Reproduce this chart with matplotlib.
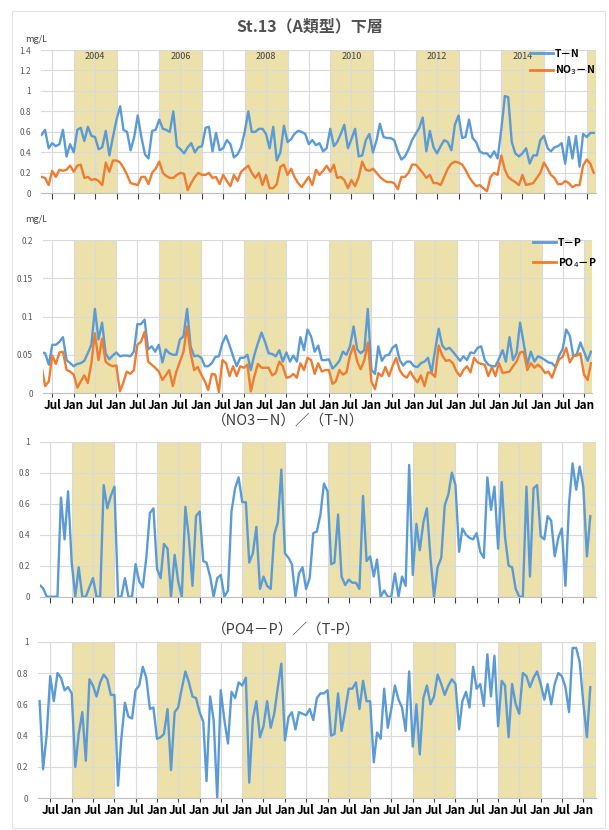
import numpy as np
import pandas as pd
import matplotlib
matplotlib.use('Agg')
import matplotlib.pyplot as plt
import matplotlib.dates as mdates
import matplotlib.transforms as mtransforms
from matplotlib.ticker import FuncFormatter, NullFormatter
from matplotlib.lines import Line2D
from matplotlib.patches import Rectangle

plt.rcParams['font.family'] = ['Noto Sans CJK JP', 'DejaVu Sans']

# ---------------- data (monthly, Apr 2003 - Mar 2016) ----------------
start_month = '2003-04-01'
n_months = 156

t_n = [0.57, 0.62, 0.44, 0.49, 0.46, 0.48, 0.62, 0.36, 0.48, 0.40, 0.62, 0.64,
       0.51, 0.65, 0.56, 0.55, 0.43, 0.45, 0.61, 0.37, 0.55, 0.72, 0.85, 0.62,
       0.60, 0.42, 0.55, 0.76, 0.55, 0.38, 0.34, 0.61, 0.62, 0.72, 0.63, 0.62,
       0.60, 0.80, 0.46, 0.43, 0.39, 0.45, 0.49, 0.40, 0.45, 0.46, 0.64, 0.65,
       0.41, 0.59, 0.42, 0.44, 0.52, 0.48, 0.35, 0.38, 0.45, 0.60, 0.80, 0.60,
       0.60, 0.63, 0.63, 0.58, 0.44, 0.65, 0.32, 0.40, 0.66, 0.50, 0.53, 0.58,
       0.61, 0.60, 0.58, 0.48, 0.52, 0.47, 0.49, 0.41, 0.44, 0.63, 0.46, 0.50,
       0.58, 0.67, 0.44, 0.53, 0.63, 0.36, 0.37, 0.52, 0.58, 0.40, 0.52, 0.68,
       0.55, 0.54, 0.54, 0.52, 0.41, 0.33, 0.36, 0.43, 0.52, 0.58, 0.64, 0.74,
       0.41, 0.61, 0.45, 0.39, 0.46, 0.52, 0.50, 0.42, 0.67, 0.76, 0.54, 0.55,
       0.72, 0.54, 0.50, 0.41, 0.39, 0.39, 0.35, 0.41, 0.34, 0.62, 0.95, 0.94,
       0.50, 0.39, 0.36, 0.39, 0.44, 0.29, 0.37, 0.37, 0.52, 0.56, 0.44, 0.41,
       0.45, 0.46, 0.49, 0.29, 0.55, 0.34, 0.56, 0.26, 0.58, 0.55, 0.59, 0.59]

no3_n = [0.16, 0.15, 0.08, 0.22, 0.16, 0.23, 0.22, 0.23, 0.27, 0.21, 0.27, 0.28,
         0.15, 0.16, 0.13, 0.14, 0.12, 0.08, 0.30, 0.21, 0.32, 0.32, 0.30, 0.25,
         0.18, 0.10, 0.09, 0.08, 0.16, 0.16, 0.09, 0.20, 0.24, 0.31, 0.20, 0.17,
         0.15, 0.15, 0.18, 0.20, 0.19, 0.03, 0.10, 0.16, 0.20, 0.18, 0.18, 0.20,
         0.15, 0.16, 0.09, 0.18, 0.12, 0.07, 0.18, 0.12, 0.21, 0.24, 0.27, 0.20,
         0.15, 0.20, 0.08, 0.18, 0.05, 0.05, 0.09, 0.26, 0.28, 0.18, 0.24, 0.16,
         0.10, 0.06, 0.11, 0.16, 0.08, 0.23, 0.18, 0.22, 0.27, 0.21, 0.28, 0.15,
         0.16, 0.13, 0.05, 0.13, 0.07, 0.16, 0.31, 0.23, 0.22, 0.24, 0.20, 0.16,
         0.13, 0.11, 0.11, 0.10, 0.04, 0.16, 0.16, 0.20, 0.28, 0.28, 0.24, 0.20,
         0.15, 0.18, 0.10, 0.10, 0.08, 0.16, 0.24, 0.29, 0.31, 0.30, 0.28, 0.23,
         0.16, 0.11, 0.07, 0.08, 0.05, 0.02, 0.16, 0.20, 0.18, 0.37, 0.23, 0.16,
         0.13, 0.11, 0.08, 0.18, 0.08, 0.09, 0.10, 0.15, 0.20, 0.30, 0.24, 0.18,
         0.15, 0.09, 0.09, 0.12, 0.10, 0.06, 0.08, 0.08, 0.27, 0.33, 0.29, 0.20]

t_p = [0.053, 0.052, 0.037, 0.063, 0.063, 0.067, 0.073, 0.043, 0.039, 0.035, 0.038, 0.039,
       0.042, 0.052, 0.063, 0.110, 0.070, 0.092, 0.052, 0.044, 0.049, 0.053, 0.048, 0.049,
       0.049, 0.048, 0.054, 0.090, 0.090, 0.096, 0.057, 0.061, 0.054, 0.063, 0.040, 0.057,
       0.052, 0.050, 0.050, 0.070, 0.074, 0.110, 0.061, 0.048, 0.049, 0.046, 0.035, 0.035,
       0.039, 0.047, 0.048, 0.065, 0.075, 0.062, 0.048, 0.035, 0.046, 0.046, 0.050, 0.030,
       0.050, 0.065, 0.079, 0.067, 0.052, 0.051, 0.048, 0.056, 0.041, 0.053, 0.041, 0.049,
       0.041, 0.073, 0.056, 0.083, 0.074, 0.054, 0.062, 0.043, 0.043, 0.044, 0.032, 0.036,
       0.042, 0.054, 0.050, 0.061, 0.087, 0.057, 0.052, 0.056, 0.110, 0.030, 0.025, 0.061,
       0.042, 0.049, 0.050, 0.059, 0.063, 0.043, 0.036, 0.041, 0.041, 0.035, 0.034, 0.039,
       0.041, 0.046, 0.027, 0.056, 0.084, 0.062, 0.057, 0.059, 0.054, 0.048, 0.042, 0.048,
       0.043, 0.053, 0.052, 0.059, 0.061, 0.043, 0.037, 0.035, 0.035, 0.045, 0.056, 0.041,
       0.073, 0.043, 0.052, 0.092, 0.065, 0.037, 0.054, 0.041, 0.048, 0.046, 0.043, 0.040,
       0.039, 0.034, 0.049, 0.057, 0.083, 0.075, 0.048, 0.051, 0.066, 0.054, 0.042, 0.054]

po4_p = [0.034, 0.009, 0.015, 0.049, 0.038, 0.053, 0.054, 0.030, 0.028, 0.024, 0.007, 0.015,
         0.023, 0.013, 0.039, 0.078, 0.043, 0.071, 0.041, 0.037, 0.035, 0.036, 0.002, 0.013,
         0.028, 0.025, 0.030, 0.063, 0.067, 0.080, 0.041, 0.037, 0.033, 0.028, 0.017, 0.023,
         0.030, 0.009, 0.028, 0.041, 0.054, 0.087, 0.052, 0.030, 0.034, 0.024, 0.015, 0.004,
         0.025, 0.024, 0.001, 0.043, 0.039, 0.022, 0.035, 0.022, 0.035, 0.033, 0.037, 0.002,
         0.022, 0.038, 0.033, 0.033, 0.033, 0.023, 0.026, 0.041, 0.035, 0.020, 0.021, 0.025,
         0.020, 0.039, 0.030, 0.046, 0.043, 0.025, 0.039, 0.028, 0.030, 0.030, 0.012, 0.015,
         0.030, 0.024, 0.027, 0.049, 0.062, 0.041, 0.031, 0.043, 0.066, 0.015, 0.005, 0.026,
         0.022, 0.034, 0.022, 0.035, 0.046, 0.030, 0.023, 0.020, 0.028, 0.020, 0.014, 0.023,
         0.009, 0.027, 0.026, 0.021, 0.062, 0.049, 0.042, 0.043, 0.039, 0.028, 0.022, 0.030,
         0.035, 0.027, 0.046, 0.040, 0.038, 0.037, 0.022, 0.034, 0.022, 0.039, 0.026, 0.027,
         0.028, 0.035, 0.041, 0.053, 0.054, 0.030, 0.039, 0.033, 0.037, 0.033, 0.026, 0.028,
         0.020, 0.033, 0.044, 0.047, 0.059, 0.040, 0.048, 0.049, 0.052, 0.024, 0.017, 0.039]

ratio_n = [0.075, 0.055, 0, 0, 0, 0, 0.64, 0.37, 0.68, 0.22, 0, 0.19,
           0, 0, 0.06, 0.12, 0, 0, 0.72, 0.57, 0.65, 0.71, 0, 0,
           0.12, 0, 0, 0.21, 0.10, 0.06, 0.25, 0.54, 0.57, 0.18, 0.12, 0.34,
           0.31, 0, 0.27, 0.10, 0, 0.58, 0.38, 0.07, 0.52, 0.55, 0.23, 0.22,
           0.13, 0, 0.12, 0.14, 0, 0.04, 0.55, 0.70, 0.77, 0.61, 0.61, 0.22,
           0.28, 0.45, 0.05, 0.13, 0.07, 0.05, 0.40, 0.48, 0.82, 0.28, 0.25, 0.21,
           0, 0.15, 0.19, 0.05, 0.12, 0.41, 0.42, 0.53, 0.73, 0.68, 0.21, 0.22,
           0.53, 0.13, 0.075, 0.11, 0.09, 0.09, 0.05, 0.65, 0.23, 0.26, 0.13, 0.24,
           0, 0.04, 0, 0, 0.15, 0, 0.13, 0.07, 0.85, 0.14, 0.47, 0.30,
           0.48, 0.57, 0.25, 0, 0.19, 0.25, 0.59, 0.66, 0.80, 0.72, 0.29, 0.44,
           0.40, 0.38, 0.37, 0.41, 0.29, 0.25, 0.77, 0.56, 0.71, 0.31, 0.74, 0.39,
           0.20, 0.19, 0.05, 0, 0, 0.71, 0.13, 0.70, 0.72, 0.39, 0.37, 0.52,
           0.49, 0.26, 0.38, 0.44, 0.07, 0.60, 0.86, 0.69, 0.84, 0.71, 0.26, 0.52]

ratio_p = [0.62, 0.185, 0.41, 0.78, 0.62, 0.80, 0.77, 0.69, 0.71, 0.67, 0.20, 0.41,
           0.55, 0.24, 0.76, 0.72, 0.65, 0.74, 0.79, 0.76, 0.66, 0.66, 0.08, 0.38,
           0.61, 0.52, 0.51, 0.69, 0.72, 0.84, 0.77, 0.57, 0.58, 0.38, 0.39, 0.41,
           0.57, 0.18, 0.55, 0.58, 0.70, 0.81, 0.74, 0.65, 0.64, 0.55, 0.49, 0.11,
           0.65, 0.50, 0, 0.69, 0.50, 0.35, 0.68, 0.64, 0.74, 0.72, 0.77, 0.10,
           0.51, 0.62, 0.39, 0.46, 0.62, 0.45, 0.54, 0.71, 0.86, 0.37, 0.52, 0.55,
           0.44, 0.55, 0.54, 0.53, 0.57, 0.50, 0.64, 0.67, 0.67, 0.69, 0.40, 0.41,
           0.67, 0.43, 0.56, 0.70, 0.70, 0.74, 0.57, 0.75, 0.62, 0.62, 0.23, 0.42,
           0.38, 0.70, 0.45, 0.57, 0.72, 0.63, 0.58, 0.43, 0.81, 0.33, 0.60, 0.28,
           0.64, 0.72, 0.60, 0.65, 0.79, 0.73, 0.66, 0.72, 0.76, 0.73, 0.44, 0.62,
           0.68, 0.58, 0.84, 0.70, 0.73, 0.59, 0.92, 0.65, 0.91, 0.46, 0.75, 0.72,
           0.39, 0.73, 0.60, 0.54, 0.80, 0.78, 0.71, 0.77, 0.81, 0.73, 0.63, 0.73,
           0.60, 0.73, 0.80, 0.78, 0.71, 0.55, 0.96, 0.96, 0.87, 0.61, 0.39, 0.71]

shade_years = [2004, 2006, 2008, 2010, 2012, 2014, 2016]
label_years = [2004, 2006, 2008, 2010, 2012, 2014]

title = 'St.13（A類型）下層'
unit = 'mg/L'
title_n = '（NO3－N）／（T-N）'
title_p = '（PO4－P）／（T-P）'
lab_tn, lab_no3 = 'T－N', 'NO$_3$－N'
lab_tp, lab_po4 = 'T－P', 'PO$_4$－P'

for arr in (t_n, no3_n, t_p, po4_p, ratio_n, ratio_p):
    assert len(arr) == n_months

# ---------------- figure ----------------
W, H = 609, 830
fig = plt.figure(figsize=(W / 100, H / 100), dpi=100)
fig.patch.set_facecolor('white')

BLUE = '#5B9BD5'
ORANGE = '#ED7D31'
SHADE = '#ECE1AB'
GRID = '#D9D9D9'
TXT = '#404040'

months = pd.date_range(start_month, periods=n_months, freq='MS')
xs = mdates.date2num(months.to_pydatetime())
d04 = mdates.date2num(pd.Timestamp('2004-01-01'))
d16 = mdates.date2num(pd.Timestamp('2016-01-01'))

tick_dates = pd.date_range('2003-07-01', '2016-01-01', freq='6MS')
tick_x = mdates.date2num(tick_dates.to_pydatetime())
tick_lbl = [d.strftime('%b') for d in tick_dates]


def make_axes(left, right, top, bottom, jan04, jan16):
    ax = fig.add_axes([left / W, 1 - bottom / H, (right - left) / W, (bottom - top) / H])
    per = (d16 - d04) / (jan16 - jan04)
    ax.set_xlim(d04 - (jan04 - left) * per, d16 + (right - jan16) * per)
    return ax


def style(ax, ymax, ystep, xlabels):
    ax.set_ylim(0, ymax)
    ax.set_yticks(np.arange(0, ymax + ystep / 2, ystep))
    ax.yaxis.set_major_formatter(FuncFormatter(lambda v, p: f'{round(v, 4):g}'))
    ax.tick_params(axis='y', length=0, labelsize=6, labelcolor='#595959', pad=7)
    ax.set_xticks(tick_x)
    if xlabels:
        ax.set_xticklabels(tick_lbl, fontweight='bold', fontsize=8.5, color='black')
        ax.tick_params(axis='x', length=3, pad=1, color='#404040')
    else:
        ax.xaxis.set_major_formatter(NullFormatter())
        ax.tick_params(axis='x', length=4, color='#404040')
    ax.grid(True, color=GRID, lw=0.8)
    ax.set_axisbelow(True)
    for s in ('top', 'right', 'left'):
        ax.spines[s].set_visible(False)
    ax.spines['bottom'].set_color('#BFBFBF')
    for y in shade_years:
        ax.axvspan(mdates.date2num(pd.Timestamp(f'{y}-01-01')),
                   mdates.date2num(pd.Timestamp(f'{y + 1}-01-01')),
                   color=SHADE, lw=0, zorder=0.1)


def legend(ax, handles, labels, x0, y0, spacing):
    ax.legend(handles, labels, loc='upper left', bbox_to_anchor=(x0 / W, 1 - y0 / H),
              bbox_transform=fig.transFigure, frameon=False, handlelength=2.2,
              handletextpad=0.2, labelspacing=spacing, borderpad=0, borderaxespad=0,
              prop={'weight': 'bold', 'size': 7.5})


# frame
fig.add_artist(Rectangle((12 / W, 2 / H), 593 / W, 817 / H, transform=fig.transFigure,
                         fill=False, edgecolor='#E3E3E3', lw=0.8))

fig.text(310 / W, 1 - 26 / H, title, ha='center', va='center', fontsize=11.5,
         fontweight='bold', color='#505050')

# ---- panel 1 ----
ax1 = make_axes(41, 596, 50, 193.3, 73.7, 586.7)
style(ax1, 1.4, 0.2, False)
ax1.plot(xs, t_n, color=BLUE, lw=1.7, zorder=3)
ax1.plot(xs, no3_n, color=ORANGE, lw=1.7, zorder=3)
tr = mtransforms.blended_transform_factory(ax1.transData, ax1.transAxes)
for y in label_years:
    ax1.text(mdates.date2num(pd.Timestamp(f'{y}-07-01')), 0.952, str(y), transform=tr,
             ha='center', va='center', fontsize=6.5, color=TXT)
fig.text(36 / W, 1 - 40 / H, unit, ha='center', va='center', fontsize=6.5, color=TXT)
legend(ax1, [Line2D([], [], color=BLUE, lw=2), Line2D([], [], color=ORANGE, lw=2)],
       [lab_tn, lab_no3], 530, 49, 0.45)

# ---- panel 2 ----
ax2 = make_axes(42.7, 591.7, 240, 393, 73.7, 584)
style(ax2, 0.2, 0.05, True)
ax2.plot(xs, t_p, color=BLUE, lw=1.7, zorder=3)
ax2.plot(xs, po4_p, color=ORANGE, lw=1.7, zorder=3)
fig.text(36 / W, 1 - 220 / H, unit, ha='center', va='center', fontsize=6.5, color=TXT)
legend(ax2, [Line2D([], [], color=BLUE, lw=2), Line2D([], [], color=ORANGE, lw=2)],
       [lab_tp, lab_po4], 533, 238, 0.75)

# ---- panel 3 ----
ax3 = make_axes(40, 595.7, 441.7, 596.7, 71.7, 583.3)
style(ax3, 1.0, 0.2, False)
ax3.plot(xs, ratio_n, color=BLUE, lw=1.7, zorder=3)
fig.text(288 / W, 1 - 421 / H, title_n, ha='center', va='center', fontsize=10.5, color=TXT)

# ---- panel 4 ----
ax4 = make_axes(38.3, 595.7, 641.7, 798.3, 71.7, 583.3)
style(ax4, 1.0, 0.2, True)
ax4.plot(xs, ratio_p, color=BLUE, lw=1.7, zorder=3)
fig.text(286 / W, 1 - 630 / H, title_p, ha='center', va='center', fontsize=10.5, color=TXT)

fig.savefig('out.png', dpi=100)
